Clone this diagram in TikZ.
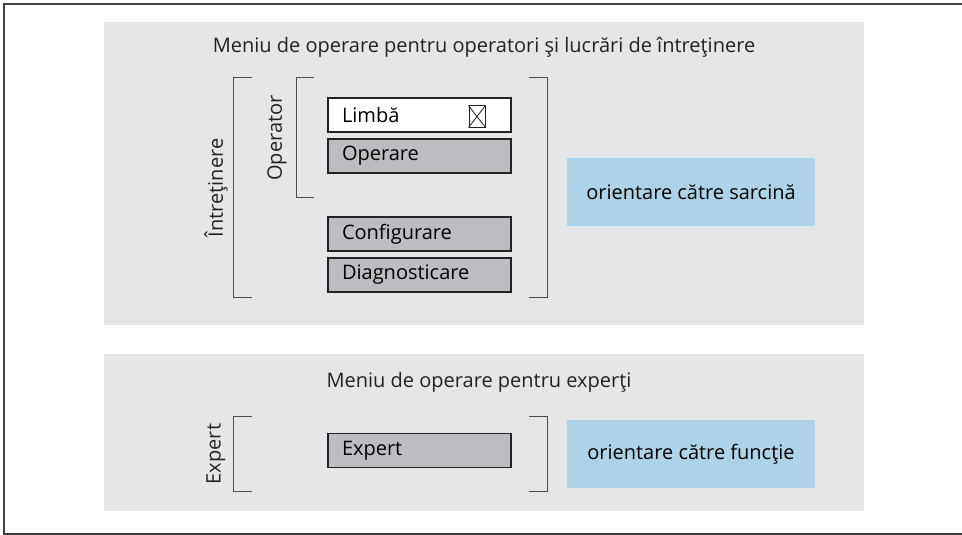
\documentclass[tikz,border=0pt]{standalone}
\usepackage{fontspec}
\setmainfont{Open Sans}
\definecolor{panelgray}{HTML}{E5E6E8}
\definecolor{boxgray}{HTML}{BCBDC0}
\definecolor{taskblue}{HTML}{AED3E8}
\definecolor{inkgray}{HTML}{222222}
\tikzset{
  menubox/.style={draw=inkgray,line width=1.2pt,fill=boxgray,minimum width=183pt,
    minimum height=34pt,inner xsep=14pt,text width=155pt,align=left,
    font=\fontsize{20}{22}\selectfont},
  orientbox/.style={fill=taskblue,minimum width=248pt,minimum height=68pt,
    font=\fontsize{20}{22}\selectfont},
  brack/.style={draw=black!70,line width=1pt},
  lbl/.style={font=\fontsize{20}{22}\selectfont,text=inkgray}
}
\begin{document}
\begin{tikzpicture}[x=1pt,y=-1pt]
  \useasboundingbox (0,0) rectangle (962,535);
  % frame
  \draw[black!75,line width=1.5pt] (962,4) -- (4,4) -- (4,534) -- (962,534);
  % panels
  \fill[panelgray] (104,22) rectangle (864,325);
  \fill[panelgray] (104,354) rectangle (864,511);
  % titles
  \node[lbl] (titleA) at (484,47) {Meniu de operare pentru operatori şi lucrări de întreţinere};
  \node[lbl] (titleB) at (479,382) {Meniu de operare pentru experţi};
  % upper brackets
  \draw[brack] (252,78) -- (233,78) -- (233,297) -- (252,297);
  \draw[brack] (314,78) -- (296,78) -- (296,197) -- (314,197);
  \draw[brack] (529,78) -- (547,78) -- (547,297) -- (529,297);
  \node[lbl,rotate=90] (maint) at (216,188) {Întreţinere};
  \node[lbl,rotate=90] (oper) at (277,138) {Operator};
  % menu entries
  \node[menubox,fill=white] (lang) at (419.5,115) {Limbă};
  \node[menubox] (operate) at (419.5,156) {Operare};
  \node[menubox] (config) at (419.5,234) {Configurare};
  \node[menubox] (diag) at (419.5,275) {Diagnosticare};
  \node[draw=inkgray,line width=1pt,minimum width=16pt,minimum height=21pt,inner sep=0pt]
    (chk) at (477,116.5) {};
  \draw[inkgray,line width=0.8pt] (chk.north west) -- (chk.south east);
  \draw[inkgray,line width=0.8pt] (chk.north east) -- (chk.south west);
  \node[orientbox] (task) at (691,192) {orientare către sarcină};
  % lower brackets
  \draw[brack] (252,416) -- (233,416) -- (233,491) -- (252,491);
  \draw[brack] (529,416) -- (547,416) -- (547,491) -- (529,491);
  \node[lbl,rotate=90] (exp) at (216,454) {Expert};
  \node[menubox] (expert) at (419.5,450.5) {Expert};
  \node[orientbox] (func) at (691,454) {orientare către funcţie};
\end{tikzpicture}
\end{document}
